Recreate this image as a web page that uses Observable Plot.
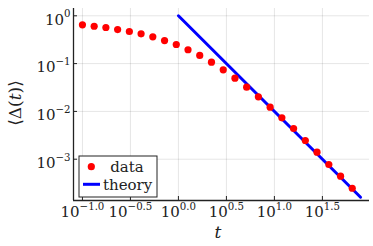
<!DOCTYPE html>
<html><head><meta charset="utf-8">
<script src="https://cdn.jsdelivr.net/npm/d3@7"></script>
<script src="https://cdn.jsdelivr.net/npm/@observablehq/plot@0.6"></script>
<style>body{margin:0;background:#fff} svg{display:block}</style>
</head><body><div id="chart"></div>
<script>
const dataT = [0.100, 0.1325, 0.1755, 0.2326, 0.3082, 0.4084, 0.541, 0.717, 0.950, 1.259, 1.668, 2.21, 2.93, 3.88, 5.14, 6.81, 9.03, 11.96, 15.85, 21.0, 27.8, 36.9, 48.9, 64.7];
const dataY = [0.649, 0.605, 0.569, 0.516, 0.470, 0.420, 0.364, 0.304, 0.251, 0.195, 0.148, 0.107, 0.0741, 0.0495, 0.0321, 0.0202, 0.01225, 0.00735, 0.00439, 0.00246, 0.00140, 0.000774, 0.000441, 0.000247];
const theoryT = [1, 79];
const theoryY = [1, 0.00016];
const xTicks = [0.1, 0.31623, 1, 3.1623, 10, 31.623];
const xTickLabels = ["−1.0", "−0.5", "0.0", "0.5", "1.0", "1.5"];
const yTicks = [1, 0.1, 0.01, 0.001];
const yTickLabels = ["0", "−1", "−2", "−3"];
const xDomain = [0.0807, 97.9];
const yDomain = [0.0001368, 1.422];

const dataRows = dataT.map((t, i) => ({t, y: dataY[i]}));
const theoryRows = theoryT.map((t, i) => ({t, y: theoryY[i]}));

const W = 373, H = 246, mL = 73, mR = 4, mT = 8, mB = 46;
const font = "DejaVu Serif";

const chart = Plot.plot({
  width: W, height: H,
  marginLeft: mL, marginRight: mR, marginTop: mT, marginBottom: mB,
  style: {fontFamily: font, fontSize: "15px", background: "#fff", overflow: "visible"},
  x: {type: "log", domain: xDomain},
  y: {type: "log", domain: yDomain},
  marks: [
    Plot.gridX(xTicks, {stroke: "#000", strokeOpacity: 0.1, strokeWidth: 1}),
    Plot.gridY(yTicks, {stroke: "#000", strokeOpacity: 0.1, strokeWidth: 1}),
    Plot.ruleX(xTicks, {stroke: "#222", strokeWidth: 1, insetTop: H - mT - mB - 4}),
    Plot.ruleY(yTicks, {stroke: "#222", strokeWidth: 1, insetRight: W - mL - mR - 4}),
    Plot.axisX({ticks: xTicks, tickSize: 0, tickPadding: 6, label: null,
      tickFormat: d => "10^" + xTickLabels[xTicks.indexOf(d)], fill: "#222"}),
    Plot.axisY({ticks: yTicks, tickSize: 0, tickPadding: 3, label: null, dy: 4,
      tickFormat: d => "10^" + yTickLabels[yTicks.indexOf(d)], fill: "#222"}),
    Plot.ruleX([xDomain[0]], {stroke: "#222", strokeWidth: 1.3}),
    Plot.ruleY([yDomain[0]], {stroke: "#222", strokeWidth: 1.3}),
    Plot.line(theoryRows, {x: "t", y: "y", stroke: "#0000ff", strokeWidth: 3}),
    Plot.dot(dataRows, {x: "t", y: "y", r: 3.6, fill: "#ff0000", stroke: "none"})
  ]
});

const svg = d3.select(chart);
svg.selectAll('g[aria-label="x-axis tick label"] text, g[aria-label="y-axis tick label"] text').each(function() {
  const s = this.textContent;
  if (!s.includes("^")) return;
  const [base, exp] = s.split("^");
  const el = d3.select(this);
  el.text("");
  el.append("tspan").text(base);
  el.append("tspan").attr("font-size", "0.68em").attr("dy", "-0.72em").text(exp);
});

// y label
const yl = svg.append("text")
  .attr("transform", "translate(21,103) rotate(-90)")
  .attr("text-anchor", "middle")
  .attr("font-family", font).attr("font-size", 17).attr("fill", "#222");
yl.append("tspan").text("⟨Δ(");
yl.append("tspan").attr("font-style", "italic").text("t");
yl.append("tspan").text(")⟩");

// x label
svg.append("text").attr("x", 218).attr("y", 238).attr("text-anchor", "middle")
  .attr("font-family", font).attr("font-size", 17).attr("font-style", "italic").attr("fill", "#222").text("t");

// legend
const lg = svg.append("g");
lg.append("rect").attr("x", 79).attr("y", 156).attr("width", 78).attr("height", 41)
  .attr("fill", "#fff").attr("stroke", "#222").attr("stroke-width", 1);
lg.append("circle").attr("cx", 91.3).attr("cy", 166.7).attr("r", 3.6).attr("fill", "#ff0000");
lg.append("text").attr("x", 127).attr("y", 172).attr("text-anchor", "middle")
  .attr("font-family", font).attr("font-size", 15).attr("fill", "#222").text("data");
lg.append("line").attr("x1", 83).attr("x2", 100).attr("y1", 184.3).attr("y2", 184.3)
  .attr("stroke", "#0000ff").attr("stroke-width", 3);
lg.append("text").attr("x", 103).attr("y", 190).attr("text-anchor", "start")
  .attr("font-family", font).attr("font-size", 15).attr("fill", "#222").text("theory");

document.getElementById("chart").appendChild(chart);
</script>
</body></html>
